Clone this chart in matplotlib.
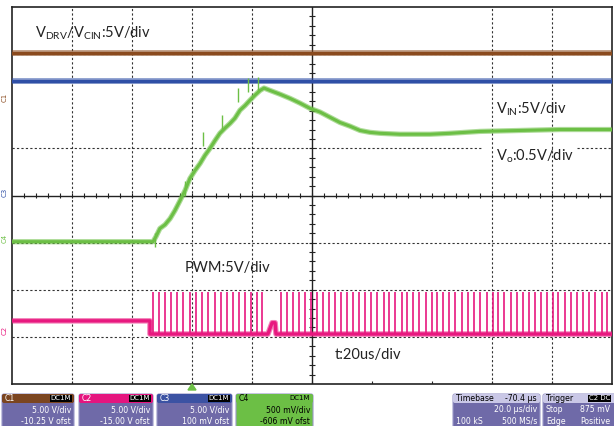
import matplotlib
matplotlib.use('Agg')
import matplotlib.pyplot as plt
from matplotlib.patches import FancyBboxPatch, Polygon
import numpy as np

plt.rcParams['font.family'] = ['Lato', 'DejaVu Sans']
plt.rcParams['mathtext.fontset'] = 'custom'
plt.rcParams['mathtext.rm'] = 'Lato'
plt.rcParams['mathtext.default'] = 'rm'

# time in us (20 us/div, 10 div), levels in screen divisions (0..8)
drv_t = [0, 200]
drv_v = [7.02, 7.02]          # C1  V_DRV / V_CIN
cin_t = [0, 200]
cin_v = [6.43, 6.43]          # C3

# C4 green trace (V_o)
vo_t = [0, 47.0, 48.0, 49.3, 51.0, 52.7, 54.3, 56.0, 57.7, 59.3, 61.0, 62.7,
        64.3, 66.0, 67.7, 69.3, 71.0, 72.7, 74.3, 76.0, 77.7, 79.3, 81.0,
        82.7, 84.0, 86.0, 89.3, 92.7, 96.0, 99.3, 102.7, 106.0, 109.3, 112.7,
        116.0, 119.3, 122.7, 129.3, 139.3, 146.0, 156.0, 169.3, 182.7, 200]
vo_v = [3.02, 3.02, 3.13, 3.30, 3.38, 3.51, 3.68, 3.89, 4.11, 4.36, 4.53,
        4.68, 4.85, 5.00, 5.17, 5.32, 5.43, 5.53, 5.64, 5.81, 5.91, 6.02,
        6.13, 6.23, 6.28, 6.23, 6.15, 6.06, 5.96, 5.85, 5.77, 5.66, 5.55,
        5.47, 5.38, 5.34, 5.32, 5.30, 5.30, 5.32, 5.36, 5.38, 5.40, 5.40]
vo_spike_t = [47.7, 57.7, 63.7, 70.0, 75.3, 78.7, 82.0]
vo_spike_v = [3.21, 4.30, 5.34, 5.70, 6.28, 6.49, 6.51]

# C2 PWM trace
pwm_t = [0, 46.0, 46.0, 85.3, 86.7, 87.7, 88.0, 200]
pwm_v = [1.34, 1.34, 1.06, 1.06, 1.30, 1.30, 1.06, 1.06]
pwm_low, pwm_high = 1.06, 1.96
pulse_t = [47.0, 49.0, 51.0, 53.0, 55.0, 57.0, 59.3, 61.3, 63.3, 65.3, 67.7,
           69.7, 71.7, 73.7, 75.7, 77.7, 79.7, 81.7, 83.3,
           89.7, 91.7, 93.7, 95.7, 97.7, 99.7, 101.7, 103.7, 105.7, 107.7,
           109.7, 111.7, 113.7, 115.7, 117.7, 119.7, 121.7, 124.0, 125.7,
           127.7, 130.0, 131.7, 133.7, 135.7, 138.0, 140.0, 141.7, 143.7,
           145.7, 147.7, 150.0, 152.0, 154.0, 156.0, 158.3, 160.3, 162.0,
           164.0, 166.3, 168.3, 170.3, 172.3, 174.3, 176.3, 178.3, 180.3,
           182.0, 184.3, 186.3, 188.3, 190.3, 192.3, 194.3, 196.7, 198.3]

brown = '#8a4a1e'
blue = '#2f4fa6'
green = '#6cbf45'
pink = '#e8187f'

W, H = 614, 426
fig = plt.figure(figsize=(6.14, 4.26), dpi=100)
ax = fig.add_axes([12 / W, 42 / H, 600 / W, 377 / H])
ax.set_xlim(0, 200)
ax.set_ylim(0, 8)
ax.set_xticks([])
ax.set_yticks([])
for s in ax.spines.values():
    s.set_linewidth(1.2)
    s.set_color('#222222')

# graticule
dots = (0, (2, 2))
for d in [1, 2, 3, 4, 8, 9]:
    ax.axvline(d * 20, color='#333333', lw=0.8, ls=dots, zorder=1)
for d in [1, 2, 3, 7]:
    ax.axhline(d, color='#333333', lw=0.8, ls=dots, zorder=1)
ax.hlines(5, 0, 156.7, color='#333333', lw=0.8, ls=dots, zorder=1)
ax.hlines(5, 188.3, 200, color='#333333', lw=0.8, ls=dots, zorder=1)
ax.axvline(100, color='#222222', lw=1.0, zorder=1)
ax.axhline(4, color='#222222', lw=1.0, zorder=1)
xt = np.arange(4, 200, 4)
ax.vlines(xt, 4 - 0.06, 4 + 0.06, color='#222222', lw=0.8, zorder=1)
yt = np.arange(0.2, 8, 0.2)
ax.hlines(yt, 100 - 1.0, 100 + 1.0, color='#222222', lw=0.8, zorder=1)
ax.vlines(np.arange(20, 200, 20), 0, 0.07, color='#222222', lw=0.8, zorder=1)

# traces
ax.plot(drv_t, drv_v, color=brown, lw=4.2, alpha=0.55, zorder=3)
ax.plot(drv_t, drv_v, color=brown, lw=2.4, zorder=3)
ax.plot(cin_t, cin_v, color=blue, lw=4.2, alpha=0.55, zorder=3)
ax.plot(cin_t, cin_v, color=blue, lw=2.4, zorder=3)
ax.vlines(pulse_t, pwm_low, pwm_high, color=pink, lw=1.2, zorder=3)
ax.plot(pwm_t, pwm_v, color=pink, lw=4.0, alpha=0.55, zorder=3)
ax.plot(pwm_t, pwm_v, color=pink, lw=2.4, zorder=3)
ax.vlines(vo_spike_t, np.array(vo_spike_v) - 0.3, vo_spike_v, color=green,
          lw=1.0, zorder=4)
ax.plot(vo_t, vo_v, color=green, lw=3.8, alpha=0.55, zorder=4)
ax.plot(vo_t, vo_v, color=green, lw=2.2, zorder=4)

# overlay in pixel coordinates for labels and status bar
ov = fig.add_axes([0, 0, 1, 1], zorder=5)
ov.set_xlim(0, W)
ov.set_ylim(H, 0)
ov.axis('off')

fs = 10.5
ov.text(35, 33, r'$V_{DRV}/V_{CIN}$:5V/div', fontsize=fs, va='center', color='#222222')
ov.text(496, 109, r'$V_{IN}$:5V/div', fontsize=fs, va='center', color='#222222')
ov.text(496, 156, r'$V_{o}$:0.5V/div', fontsize=fs, va='center', color='#222222')
ov.text(185, 268, 'PWM:5V/div', fontsize=fs, va='center', color='#222222')
ov.text(335, 355, 't:20us/div', fontsize=fs, va='center', color='#222222')

# channel ground markers
for lab, yy, c in [('C1', 97, brown), ('C3', 192, blue), ('C4', 238, green), ('C2', 330, pink)]:
    ov.text(5, yy, lab, fontsize=5, color=c, rotation=90, ha='center', va='center',
            family='DejaVu Sans')

# trigger marker
ov.add_patch(Polygon([[188, 390], [196, 390], [192, 384]], closed=True, color=green))

purple = '#6f6aa8'
boxes = [
    (2, 74, '#7b4520', purple, 'C1', 'DC1M', '5.00 V/div', '-10.25 V ofst', 'white'),
    (79, 153, '#e5157f', purple, 'C2', 'DC1M', '5.00 V/div', '-15.00 V ofst', 'white'),
    (157, 232, '#3b52a3', purple, 'C3', 'DC1M', '5.00 V/div', '100 mV ofst', 'white'),
    (236, 313, green, green, 'C4', 'DC1M', '500 mV/div', '-606 mV ofst', 'black'),
]
sfs = 5.6
for x0, x1, hc, bc, name, cpl, l1, l2, tc in boxes:
    ov.add_patch(FancyBboxPatch((x0, 394), x1 - x0, 34, boxstyle='round,pad=0,rounding_size=2',
                                fc=bc, ec='#9a98c8', lw=0.8))
    ov.add_patch(FancyBboxPatch((x0, 394), x1 - x0, 9, boxstyle='round,pad=0,rounding_size=2',
                                fc=hc, ec='none'))
    ov.text(x0 + 3, 398.5, name, fontsize=sfs, color='black' if tc == 'black' else 'white',
            va='center', family='DejaVu Sans')
    ov.text(x1 - 3, 398.5, cpl, fontsize=sfs - 0.6, color='white' if tc == 'white' else 'black',
            va='center', ha='right', family='DejaVu Sans',
            bbox=dict(boxstyle='square,pad=0.1', fc='black', ec='none') if tc == 'white' else None)
    ov.text(x1 - 3, 410, l1, fontsize=sfs, color=tc, va='center', ha='right', family='DejaVu Sans')
    ov.text(x1 - 3, 421, l2, fontsize=sfs, color=tc, va='center', ha='right', family='DejaVu Sans')

light = '#c9c7e6'
for x0, x1, head_l, head_r, rows in [
    (453, 540, 'Timebase', '-70.4 \u00b5s', [('', '20.0 \u00b5s/div'), ('100 kS', '500 MS/s')]),
    (543, 618, 'Trigger', 'C2 DC', [('Stop', '875 mV'), ('Edge', 'Positive')]),
]:
    ov.add_patch(FancyBboxPatch((x0, 394), x1 - x0, 34, boxstyle='round,pad=0,rounding_size=2',
                                fc=purple, ec='#9a98c8', lw=0.8))
    ov.add_patch(FancyBboxPatch((x0, 394), x1 - x0, 9, boxstyle='round,pad=0,rounding_size=2',
                                fc=light, ec='none'))
    ov.text(x0 + 3, 398.5, head_l, fontsize=sfs, color='black', va='center', family='DejaVu Sans')
    if head_l == 'Trigger':
        ov.text(x1 - 8, 398.5, head_r, fontsize=sfs - 0.6, color='white', va='center', ha='right',
                family='DejaVu Sans', bbox=dict(boxstyle='square,pad=0.1', fc='black', ec='none'))
    else:
        ov.text(x1 - 3, 398.5, head_r, fontsize=sfs, color='black', va='center', ha='right',
                family='DejaVu Sans')
    for (lt, rt), yy in zip(rows, [410, 421]):
        ov.text(x0 + 3, yy, lt, fontsize=sfs, color='white', va='center', family='DejaVu Sans')
        ov.text(x1 - (8 if head_l == 'Trigger' else 3), yy, rt, fontsize=sfs, color='white',
                va='center', ha='right', family='DejaVu Sans')

fig.savefig('out.png', dpi=100)
